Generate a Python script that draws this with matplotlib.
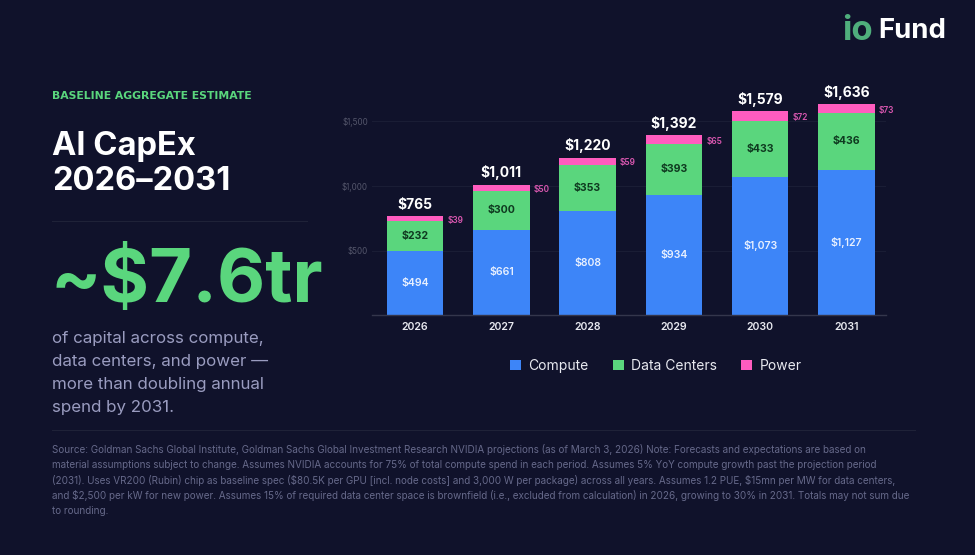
import matplotlib
matplotlib.use("Agg")
import matplotlib.pyplot as plt
import numpy as np

years = ["2026", "2027", "2028", "2029", "2030", "2031"]
compute = [494, 661, 808, 934, 1073, 1127]
data_centers = [232, 300, 353, 393, 433, 436]
power = [39, 50, 59, 65, 72, 73]
totals = [765, 1011, 1220, 1392, 1579, 1636]
y_ticks = [500, 1000, 1500]
y_tick_labels = ["$500", "$1,000", "$1,500"]

desc_lines = ["of capital across compute,", "data centers, and power \u2014",
              "more than doubling annual", "spend by 2031."]
note_lines = [
    "Source: Goldman Sachs Global Institute, Goldman Sachs Global Investment Research NVIDIA projections (as of March 3, 2026) Note: Forecasts and expectations are based on",
    "material assumptions subject to change. Assumes NVIDIA accounts for 75% of total compute spend in each period. Assumes 5% YoY compute growth past the projection period",
    "(2031). Uses VR200 (Rubin) chip as baseline spec ($80.5K per GPU [incl. node costs] and 3,000 W per package) across all years. Assumes 1.2 PUE, $15mn per MW for data centers,",
    "and $2,500 per kW for new power. Assumes 15% of required data center space is brownfield (i.e., excluded from calculation) in 2026, growing to 30% in 2031. Totals may not sum due",
    "to rounding.",
]

BG = "#10122b"
BLUE = "#3d85f8"
GREEN = "#5ad67d"
PINK = "#ff5cbf"
W, H = 975, 555

plt.rcParams["font.family"] = ["Inter", "DejaVu Sans"]
plt.rcParams["text.parse_math"] = False

fig = plt.figure(figsize=(W / 100, H / 100), dpi=100, facecolor=BG)


def label(x, y, s, **kw):
    # x, y in image pixels from the top left
    kw.setdefault("va", "center")
    return fig.text(x / W, 1 - y / H, s, **kw)


def rule(x0, x1, y, color="#1f2238"):
    fig.add_artist(plt.Line2D([x0 / W, x1 / W], [1 - y / H, 1 - y / H], color=color, lw=0.8))


# chart
ax = fig.add_axes([372 / W, 1 - 315 / H, 514 / W, 235 / H], facecolor="none")
pos = np.arange(len(years))
c = np.array(compute)
d = np.array(data_centers)
p = np.array(power)
b1 = ax.bar(pos, c, 0.655, color=BLUE, label="Compute")
b2 = ax.bar(pos, d, 0.655, bottom=c, color=GREEN, label="Data Centers")
b3 = ax.bar(pos, p, 0.655, bottom=c + d, color=PINK, label="Power")
ax.set_xlim(-0.5, 5.46)
ax.set_ylim(0, 235 / 0.129)
ax.set_yticks(y_ticks, y_tick_labels)
ax.set_xticks(pos, years)
ax.tick_params(axis="y", length=0, labelsize=5.8, labelcolor="#54566b", pad=3)
ax.tick_params(axis="x", length=0, labelsize=7.6, labelcolor="#e8e9f0", pad=5)
for t in ax.get_xticklabels():
    t.set_fontweight("semibold")
ax.grid(axis="y", color="#1b1e36", lw=0.7)
ax.set_axisbelow(True)
for s in ["top", "left", "right"]:
    ax.spines[s].set_visible(False)
ax.spines["bottom"].set_color("#34364c")
ax.spines["bottom"].set_linewidth(1.0)

for i in pos:
    ax.text(i, c[i] / 2, f"${compute[i]:,}", ha="center", va="center", color="#e8f0ff",
            fontsize=7.6, fontweight="semibold")
    ax.text(i, c[i] + d[i] / 2, f"${data_centers[i]:,}", ha="center", va="center", color="#0f3a20",
            fontsize=7.6, fontweight="bold")
    ax.annotate(f"${power[i]:,}", (i + 0.3275, c[i] + d[i] + p[i] / 2), xytext=(3, -1), textcoords="offset points",
                ha="left", va="center", color="#d957b0", fontsize=6, fontweight="semibold")
    ax.annotate(f"${totals[i]:,}", (i, totals[i]), xytext=(0, 3), textcoords="offset points",
                ha="center", va="bottom", color="#ffffff", fontsize=10, fontweight="bold")

fig.legend(handles=[b1, b2, b3], loc="center", bbox_to_anchor=(656 / W, 1 - 366 / H), ncol=3, frameon=False,
           handlelength=0.75, handleheight=0.75, handletextpad=0.55, columnspacing=1.75, fontsize=10,
           labelcolor="#e8e9f0")

# left panel
label(52, 96, "BASELINE AGGREGATE ESTIMATE", color=GREEN, fontsize=7.85, fontweight="bold", family="DejaVu Sans")
label(52, 146, "AI CapEx", color="white", fontsize=23.5, fontweight="bold")
label(52, 181, "2026\u20132031", color="white", fontsize=23.5, fontweight="bold")
rule(52, 307, 221)
label(50, 283, "~$7.6tr", color=GREEN, fontsize=53.5, fontweight="bold")
for i, line in enumerate(desc_lines):
    label(52, 339 + i * 22.7, line, color="#9a9cc0", fontsize=12.2)

# footnote
rule(52, 915, 430)
for i, line in enumerate(note_lines):
    label(52, 449.5 + i * 15.3, line, color="#66698a", fontsize=7.15)

# logo
label(842, 31, "io", color="#4fae7c", fontsize=25, fontweight="bold")
label(878, 31, "Fund", color="white", fontsize=19.8, fontweight="bold")

fig.savefig("out.png", dpi=100, facecolor=BG)
